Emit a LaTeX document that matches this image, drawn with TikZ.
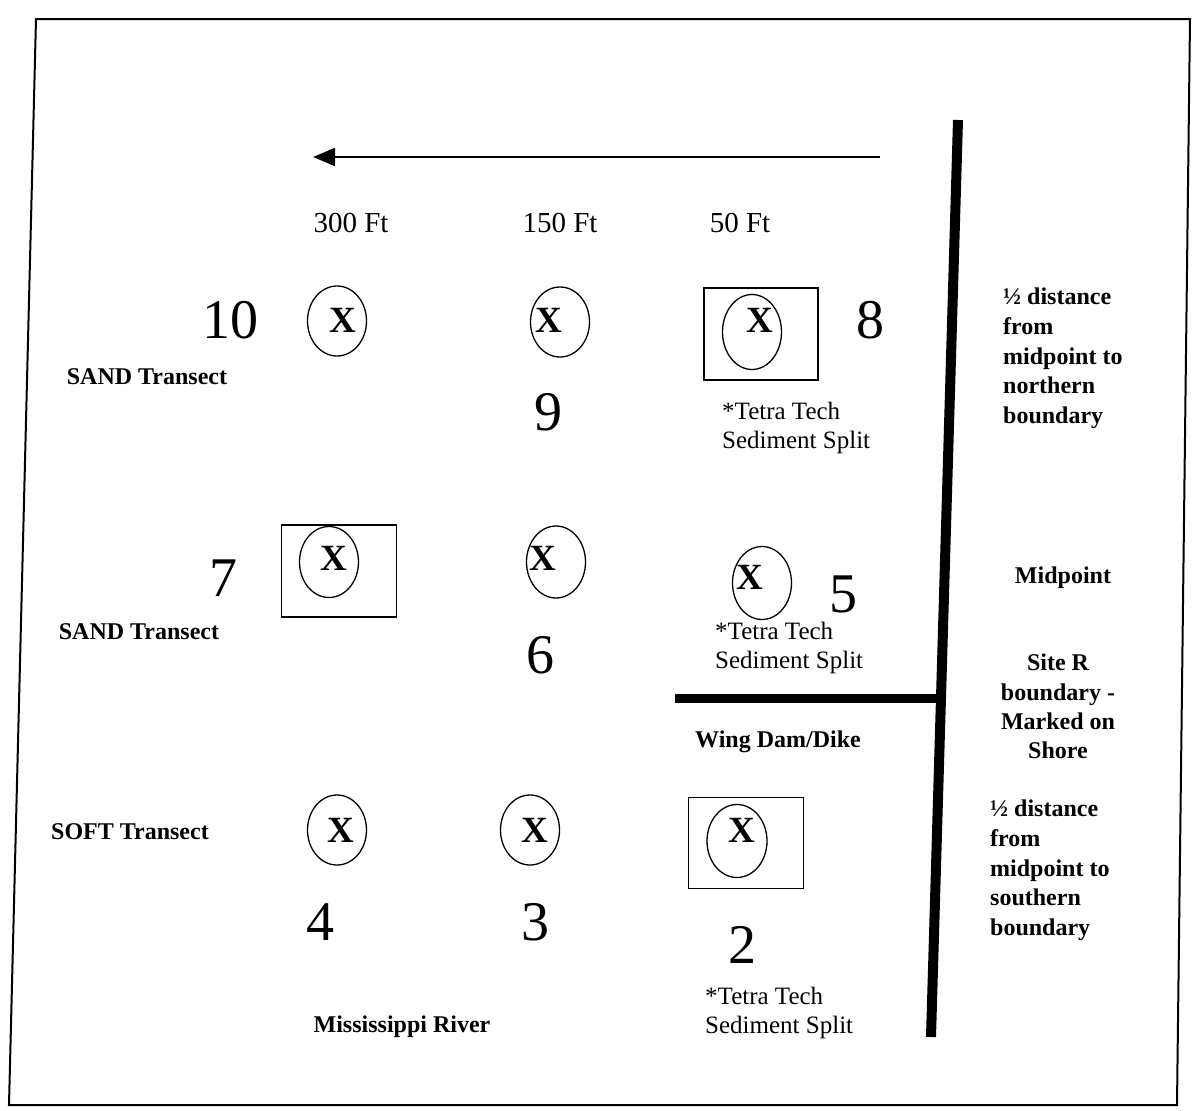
\documentclass[tikz,border=0pt]{standalone}
\usepackage{fontspec}
\setmainfont{Liberation Serif}
\usetikzlibrary{shapes.geometric,arrows.meta}
\begin{document}
\begin{tikzpicture}[x=1pt,y=-1pt,
  sample/.style={draw,ellipse,line width=1.3pt,minimum width=59pt,minimum height=70pt,inner sep=0},
  xmark/.style={font=\fontsize{37}{37}\selectfont\bfseries,inner sep=0},
  splitbox/.style={draw,line width=1.6pt,minimum width=114pt,minimum height=92pt,inner sep=0},
  bignum/.style={font=\fontsize{56}{56}\selectfont,inner sep=0},
  dist/.style={font=\fontsize{29}{29}\selectfont,inner sep=0},
  blabel/.style={font=\fontsize{24}{24}\selectfont\bfseries,inner sep=0},
  note/.style={font=\fontsize{25}{29}\selectfont,align=left,inner sep=0,anchor=north west},
  side/.style={font=\fontsize{24}{29.6}\selectfont\bfseries,inner sep=0,anchor=north west,align=left},
  sidec/.style={font=\fontsize{24}{29.3}\selectfont\bfseries,inner sep=0,anchor=north,align=center},
  heavy/.style={line width=10pt},
]
\useasboundingbox (0,0) rectangle (1192,1111);
% frame
\draw[line width=2pt] (36,19) -- (1190,19) -- (1177,1105) -- (9,1105) -- cycle;

% flow arrow
\coordinate (arrS) at (880,157);
\coordinate (arrE) at (313,157);
\draw[line width=2pt,-{Triangle[length=22pt,width=18pt]}] (arrS) -- (arrE);

% shoreline boundary and wing dam
\coordinate (shoreTop) at (958,120);
\coordinate (shoreBot) at (931,1037);
\draw[heavy] (shoreTop) -- (shoreBot);
\coordinate (damW) at (675,698);
\coordinate (damE) at (938,698);
\draw[line width=9pt] (damW) -- (damE);

% distance labels
\node[dist] (d300) at (351,223) {300 Ft};
\node[dist] (d150) at (560,223) {150 Ft};
\node[dist] (d50) at (740,223) {50 Ft};

% row 1
\node[sample] (c10) at (337,321) {};
\node[xmark] (x10) at (343,320) {X};
\node[sample] (c9) at (560,322) {};
\node[xmark] (x9) at (549,320) {X};
\node[splitbox] (b8) at (761,334) {};
\node[sample,minimum height=75pt,minimum width=59pt] (c8) at (752,332) {};
\node[xmark] (x8) at (760,320) {X};
\node[bignum] (n10) at (230,320) {10};
\node[bignum] (n9) at (548,412) {9};
\node[bignum] (n8) at (870,320) {8};
\node[blabel] (t1) at (147,377) {SAND Transect};
\node[note] (tt1) at (722,402) {*Tetra Tech\\Sediment Split};

% row 2
\node[splitbox,minimum width=115pt] (b7) at (339,571) {};
\node[sample,minimum height=71pt] (c7) at (329,562) {};
\node[xmark] (x7) at (334,558) {X};
\node[bignum] (n7) at (223,578) {7};
\node[sample,minimum height=72pt] (c6) at (556,562) {};
\node[xmark] (x6) at (543,558) {X};
\node[bignum] (n6) at (540,655) {6};
\node[sample,minimum height=73pt,minimum width=59pt] (c5) at (762,583) {};
\node[xmark] (x5) at (750,577) {X};
\node[bignum] (n5) at (843,594) {5};
\node[blabel] (t2) at (139,632) {SAND Transect};
\node[note] (tt2) at (715,622) {*Tetra Tech\\Sediment Split};
\node[blabel] (dam) at (778,742) {Wing Dam/Dike};

% row 3
\node[sample] (c4) at (337,830) {};
\node[xmark] (x4) at (341,830) {X};
\node[bignum] (n4) at (320,922) {4};
\node[sample] (c3) at (530,830) {};
\node[xmark] (x3) at (535,830) {X};
\node[bignum] (n3) at (535,922) {3};
\node[splitbox,minimum width=115pt,minimum height=91pt] (b2) at (746,843) {};
\node[sample,minimum height=73pt,minimum width=60pt] (c2) at (737,841) {};
\node[xmark] (x2) at (742,830) {X};
\node[bignum] (n2) at (742,945) {2};
\node[blabel] (t3) at (130,832) {SOFT Transect};
\node[note] (tt3) at (705,987) {*Tetra Tech\\Sediment Split};
\node[blabel] (river) at (402,1027) {Mississippi River};

% shore-side notes
\node[side] (north) at (1003,288) {½ distance\\from\\midpoint to\\northern\\boundary};
\node[blabel] (mid) at (1063,578) {Midpoint};
\node[sidec] (siteR) at (1058,654) {Site R\\boundary -\\Marked on\\Shore};
\node[side] (south) at (990,800) {½ distance\\from\\midpoint to\\southern\\boundary};
\end{tikzpicture}
\end{document}
